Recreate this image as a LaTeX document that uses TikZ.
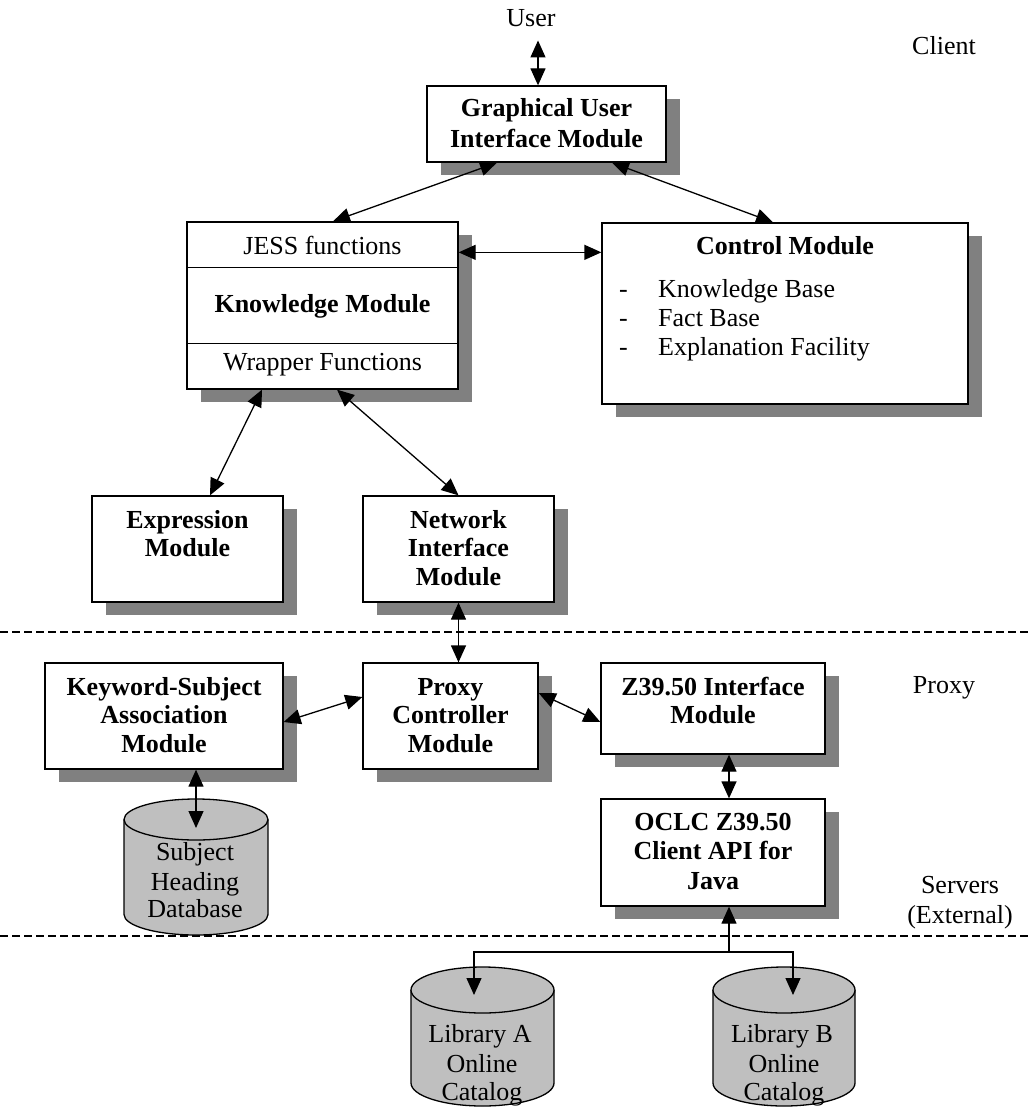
\documentclass[tikz,border=0pt]{standalone}
\usepackage{fontspec}
\setmainfont{Liberation Serif}
\usetikzlibrary{arrows.meta,shadows,calc}
\begin{document}
\begin{tikzpicture}[x=1pt,y=-1pt,
  font=\fontsize{26}{29}\selectfont,
  box/.style={draw, line width=1.3pt, fill=white, inner sep=0pt,
    drop shadow={shadow xshift=13.5pt, shadow yshift=-13pt, fill=black!50, opacity=1}},
  tn/.style={inner sep=0pt, anchor=base},
  tb/.style={inner sep=0pt, anchor=base, font=\fontsize{26}{29}\selectfont\bfseries},
  dbl/.style={{Triangle[length=17pt,width=15pt]}-{Triangle[length=17pt,width=15pt]}, line width=1.3pt},
  sgl/.style={-{Triangle[length=17pt,width=15pt]}, line width=1.3pt},
  sep/.style={line width=1.2pt, dash pattern=on 8pt off 4pt},
  cyl/.style={line width=1.3pt},
  cylfill/.style={fill=black!25}
]
\useasboundingbox (0,0) rectangle (1029,1116);

% separators
\draw[sep] (0,632) -- (1029,632);
\draw[sep] (0,936) -- (1029,936);

% region labels
\node[tn] (user) at (531,27) {User};
\node[tn] (client) at (944,55) {Client};
\node[tn] (proxylbl) at (944,693) {Proxy};
\node[tn] (servers) at (960,893) {Servers};
\node[tn] (external) at (960,923) {(External)};

% GUI
\node[box, minimum width=239pt, minimum height=76pt] (gui) at (546.5,124) {};
\node[tb] (gui1) at (546.5,116) {Graphical User};
\node[tb] (gui2) at (546.5,147) {Interface Module};

% Knowledge module
\node[box, minimum width=271pt, minimum height=167pt] (know) at (322.5,305.5) {};
\draw[line width=1.3pt] ($(know.north west)+(0,46)$) -- ($(know.north east)+(0,46)$);
\draw[line width=1.3pt] ($(know.north west)+(0,122)$) -- ($(know.north east)+(0,122)$);
\node[tn] (jess) at (322.5,254) {JESS functions};
\node[tb] (know1) at (322.5,312) {Knowledge Module};
\node[tn] (wrap) at (322.5,370) {Wrapper Functions};

% Control module
\node[box, minimum width=366pt, minimum height=181pt] (ctrl) at (785,313.5) {};
\node[tb] (ctrl1) at (785,254) {Control Module};
\node[tn, anchor=base west] (d1) at (619,297) {-};
\node[tn, anchor=base west] (kb) at (658,297) {Knowledge Base};
\node[tn, anchor=base west] (d2) at (619,326) {-};
\node[tn, anchor=base west] (fb) at (658,326) {Fact Base};
\node[tn, anchor=base west] (d3) at (619,355) {-};
\node[tn, anchor=base west] (ef) at (658,355) {Explanation Facility};

% Expression module
\node[box, minimum width=191pt, minimum height=106pt] (expr) at (187.5,549) {};
\node[tb] (expr1) at (187.5,528) {Expression};
\node[tb] (expr2) at (187.5,556) {Module};

% Network interface module
\node[box, minimum width=191pt, minimum height=106pt] (net) at (458.5,549) {};
\node[tb] (net1) at (458.5,528) {Network};
\node[tb] (net2) at (458.5,556) {Interface};
\node[tb] (net3) at (458.5,585) {Module};

% Keyword-Subject association module
\node[box, minimum width=238pt, minimum height=106pt] (kw) at (164,716) {};
\node[tb] (kw1) at (164,695) {Keyword-Subject};
\node[tb] (kw2) at (164,723) {Association};
\node[tb] (kw3) at (164,752) {Module};

% Proxy controller module
\node[box, minimum width=175pt, minimum height=106pt] (proxy) at (450.5,716) {};
\node[tb] (proxy1) at (450.5,695) {Proxy};
\node[tb] (proxy2) at (450.5,723) {Controller};
\node[tb] (proxy3) at (450.5,752) {Module};

% Z39.50 interface module
\node[box, minimum width=224pt, minimum height=91pt] (z39) at (713,708.5) {};
\node[tb] (z391) at (713,695) {Z39.50 Interface};
\node[tb] (z392) at (713,723) {Module};

% OCLC client API
\node[box, minimum width=224pt, minimum height=107pt] (oclc) at (713,852.5) {};
\node[tb] (oclc1) at (713,830) {OCLC Z39.50};
\node[tb] (oclc2) at (713,859) {Client API for};
\node[tb] (oclc3) at (713,889) {Java};

% Subject heading database cylinder
\fill[cylfill] (124,819.5) rectangle (268,914.5);
\fill[cylfill] (196,914.5) ellipse[x radius=72pt, y radius=20.5pt];
\draw[cyl] (124,819.5) -- (124,914.5) arc[start angle=180, end angle=360, x radius=72pt, y radius=20.5pt] -- (268,819.5);
\draw[cyl, cylfill] (196,819.5) ellipse[x radius=72pt, y radius=20.5pt];
\node[tn] (subj1) at (195,860) {Subject};
\node[tn] (subj2) at (195,890) {Heading};
\node[tn] (subj3) at (195,917) {Database};

% Library A cylinder
\fill[cylfill] (411,990) rectangle (554,1083);
\fill[cylfill] (482.5,1083) ellipse[x radius=71.5pt, y radius=23pt];
\draw[cyl] (411,990) -- (411,1083) arc[start angle=180, end angle=360, x radius=71.5pt, y radius=23pt] -- (554,990);
\draw[cyl, cylfill] (482.5,990) ellipse[x radius=71.5pt, y radius=23pt];
\node[tn] (liba1) at (480,1042) {Library A};
\node[tn] (liba2) at (482,1072) {Online};
\node[tn] (liba3) at (482,1100) {Catalog};

% Library B cylinder
\fill[cylfill] (713,990) rectangle (855,1083);
\fill[cylfill] (784,1083) ellipse[x radius=71pt, y radius=23pt];
\draw[cyl] (713,990) -- (713,1083) arc[start angle=180, end angle=360, x radius=71pt, y radius=23pt] -- (855,990);
\draw[cyl, cylfill] (784,990) ellipse[x radius=71pt, y radius=23pt];
\node[tn] (libb1) at (782,1042) {Library B};
\node[tn] (libb2) at (784,1072) {Online};
\node[tn] (libb3) at (784,1100) {Catalog};

% connectors
\draw[dbl] ($(user.south)+(7,13)$) -- ($(gui.north)+(-8.5,0)$);
\draw[dbl] ($(gui.south)+(-49.5,0)$) -- ($(know.north)+(10.5,0)$);
\draw[dbl] ($(gui.south)+(65.5,0)$) -- ($(ctrl.north)+(-12,0)$);
\draw[dbl] ($(know.north east)+(0,31)$) -- ($(ctrl.north west)+(0,30)$);
\draw[dbl] ($(know.south)+(-60.5,0)$) -- ($(expr.north)+(22.5,0)$);
\draw[dbl] ($(know.south)+(14.5,0)$) -- (net.north);
\draw[dbl] (net.south) -- (net.south |- proxy.north);
\draw[dbl] ($(kw.east)+(0,6)$) -- ($(proxy.west)+(0,-19)$);
\draw[dbl] ($(proxy.east)+(0,-23)$) -- ($(z39.west)+(0,13.5)$);
\coordinate (subjtop) at (196,828);
\draw[dbl] (subjtop |- kw.south) -- (subjtop);
\draw[dbl] ($(z39.south)+(16,0)$) -- ($(oclc.north)+(16,0)$);
\coordinate (split) at (729,952);
\coordinate (libAtop) at (474,995);
\coordinate (libBtop) at (793,995);
\draw[sgl] (split) -- ($(oclc.south)+(16,0)$);
\draw[sgl] (split) -| (libAtop);
\draw[sgl] (split) -| (libBtop);
\end{tikzpicture}
\end{document}
